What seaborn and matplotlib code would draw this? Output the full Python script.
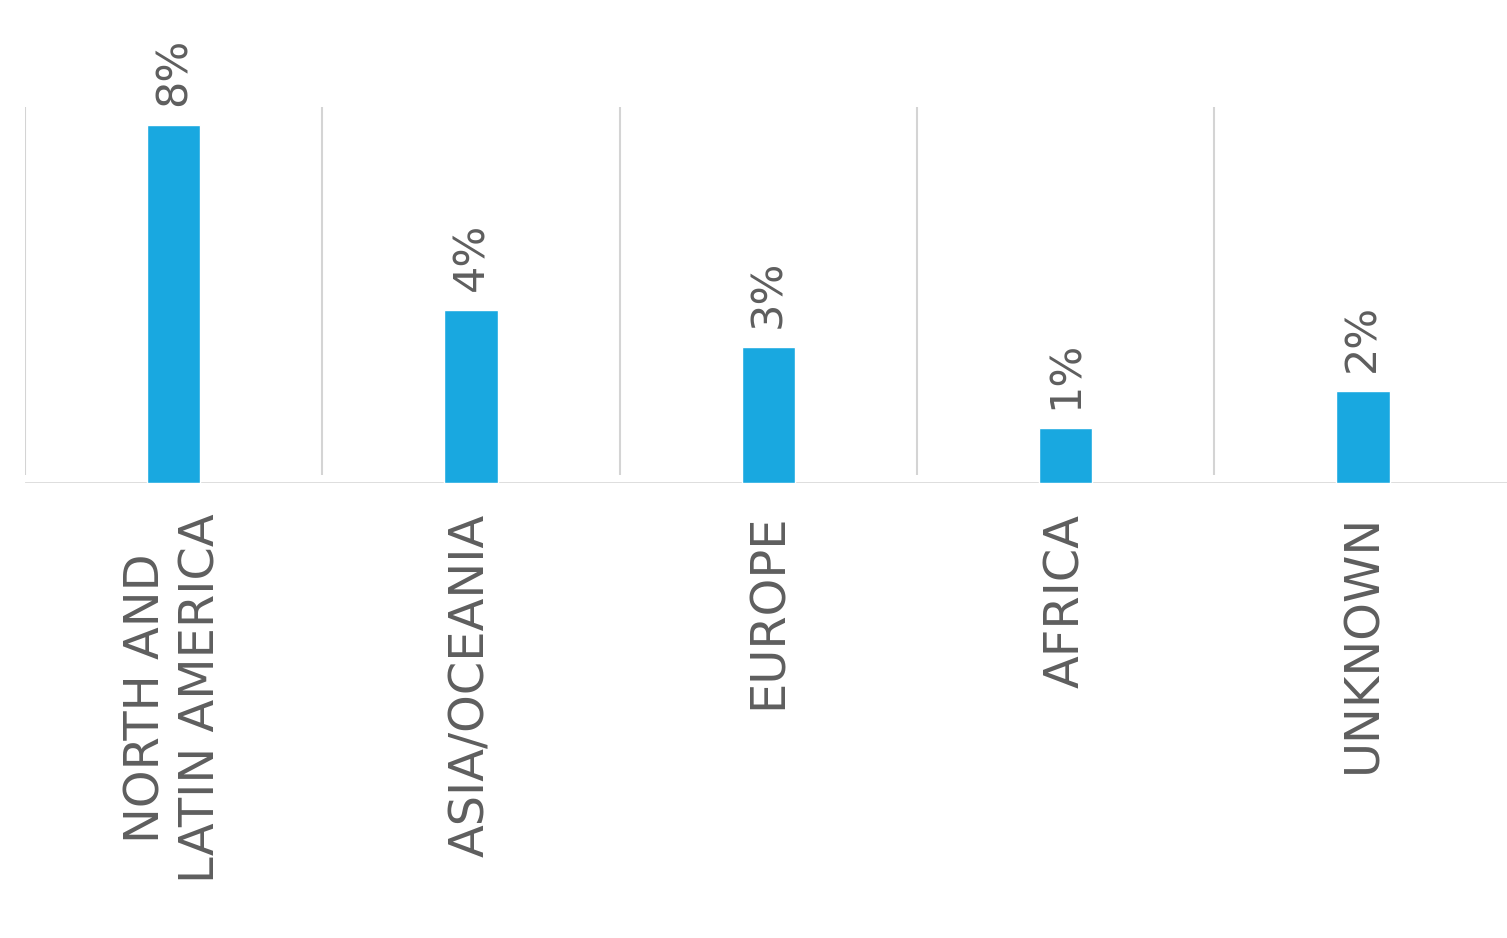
import matplotlib
matplotlib.use("Agg")
import matplotlib.pyplot as plt
import seaborn as sns
import pandas as pd

# Share of cases by region (percent)
regions = ["NORTH AND\nLATIN AMERICA", "ASIA/OCEANIA", "EUROPE", "AFRICA", "UNKNOWN"]
shares = [8.0, 3.87, 3.04, 1.23, 2.06]

bar_color = "#19a8e0"
grid_color = "#d4d4d4"
text_color = "#5e5e5e"

sns.set_theme(style="white")
plt.rcParams["font.family"] = ["DejaVu Sans"]

df = pd.DataFrame({"region": regions, "share": shares})

fig = plt.figure(figsize=(15.07, 9.38), dpi=100)
ax = fig.add_axes([0.0166, 0.485, 0.9864, 0.401])

sns.barplot(data=df, x="region", y="share", color=bar_color, width=0.18,
            saturation=1, ax=ax, zorder=3)

ax.set_xlim(-0.5, len(regions) - 0.5)
ax.set_ylim(0, 8.4)

# category separators and baseline
ax.vlines([i - 0.5 for i in range(len(regions))], 0.18, 8.4,
          color=grid_color, lw=1.5, zorder=1)
ax.axhline(0, color=grid_color, lw=1.8, zorder=2)

# value labels above bars
for i, v in enumerate(shares):
    ax.text(i, v + 0.42, f"{v:.0f}%", rotation=90, ha="center", va="bottom",
            fontsize=31, color=text_color)

for s in ax.spines.values():
    s.set_visible(False)
ax.set_yticks([])
ax.set_xlabel("")
ax.set_ylabel("")
ax.tick_params(axis="x", length=0, pad=22)
for lbl in ax.get_xticklabels():
    lbl.set_rotation(90)
    lbl.set_fontsize(34.5)
    lbl.set_color(text_color)
    lbl.set_multialignment("center")

fig.savefig("out.png", dpi=100, facecolor="white")
